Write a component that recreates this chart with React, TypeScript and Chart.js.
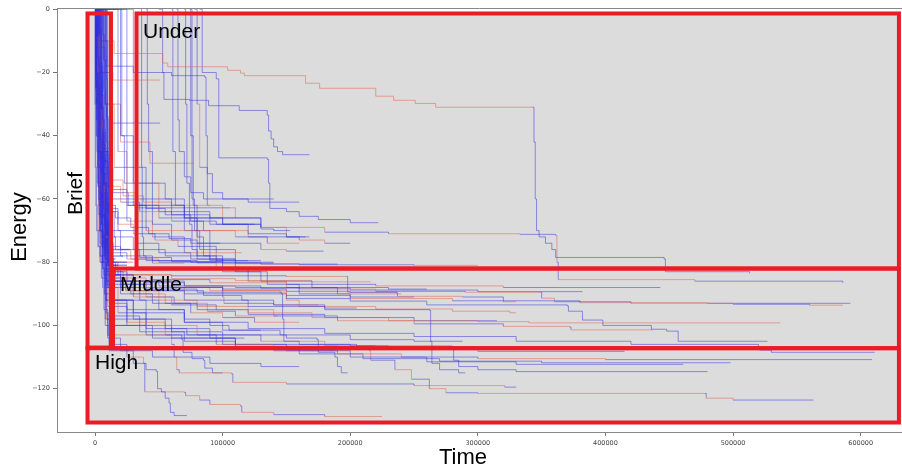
import React, { useEffect, useRef } from 'react';
import { Chart, registerables } from 'chart.js';
Chart.register(...registerables);

// Each run: flat list of [time (thousands), energy] pairs; energy drops to the new value at that time.
const briefRuns: number[][] = [
  [0,0, 4,-8, 5,-20, 6,-35, 7,-46, 8,-55, 9,-62, 10,-68, 11,-72, 13,-72],
  [2,0, 2.5,-6, 3,-18, 4,-30, 5,-44, 6,-58, 7,-66, 8,-75, 11,-79, 16,-79],
  [6,0, 6.5,-12, 7,-26, 7.5,-38, 8,-50, 8.5,-60, 9.5,-70, 10.5,-77, 12,-81, 18,-81],
  [0,0, 1,-4, 2,-15, 3,-27, 4,-41, 5,-52, 6.5,-63, 8,-74, 10,-80, 13,-84, 20,-84],
  [8,0, 8.3,-15, 8.7,-30, 9.2,-42, 9.7,-53, 10.2,-64, 10.7,-73, 11.5,-78, 12.5,-83, 14,-83],
  [0,0, 1.5,-9, 2.5,-20, 4,-32, 5,-45, 6,-56, 7,-65, 8.5,-72, 11,-76, 27,-76],
  [4,0, 4.4,-20, 5,-38, 6,-52, 6.8,-61, 7.8,-69, 9.5,-75, 12,-78, 22,-78],
  [0,0, 0.8,-14, 1.8,-29, 3,-40, 4.5,-51, 6,-59, 7.5,-67, 9.5,-74, 14,-80, 25,-80],
  [2,0, 3,-6, 4.5,-18, 5.5,-31, 6.5,-43, 7.5,-55, 8.5,-66, 9.5,-76, 12,-83, 15,-83],
  [7,0, 7.3,-25, 7.9,-45, 8.8,-58, 9.5,-67, 10.5,-73, 12,-79, 14,-82, 16,-82],
  [0,0, 1.2,-11, 2.4,-24, 3.6,-36, 5,-47, 7,-57, 8.5,-70, 10.5,-81, 13,-86, 16,-86],
  [3,0, 3.5,-8, 4.3,-17, 5.1,-28, 6.3,-39, 7.8,-49, 9.2,-61, 10,-71, 11,-78, 12,-80, 30,-80],
  [5,0, 5.2,-12, 5.6,-27, 6.1,-40, 6.7,-52, 7.6,-63, 8.8,-71, 10.5,-76, 12,-77, 14,-77],
  [0,0, 3,-10, 4,-22, 5,-34, 6,-46, 7,-58, 8,-68, 9.5,-79, 11,-88, 12,-94, 14,-94],
  [1,0, 2,-30, 3,-47, 4.5,-60, 6,-72, 8,-85, 9,-96, 10,-103, 12,-103],
  [9,0, 9.3,-18, 9.6,-35, 10,-50, 10.5,-65, 11,-80, 11.5,-92, 12,-99, 13,-99],
  [0,0, 0.7,-22, 1.5,-40, 2.5,-56, 4,-70, 6,-82, 7.5,-90, 8.5,-92, 10,-92],
  [0,0, 0.1,-30, 0.4,-50, 0.9,-62, 1.5,-70, 2.5,-75, 4,-78, 6,-80, 8,-80],
  [6,0, 6.2,-40, 6.5,-55, 7,-65, 8,-72, 9,-77, 10,-80, 12,-80],
  [3,0, 4,-45, 4.5,-60, 5,-68, 6,-74, 8,-79, 10,-81, 25,-81],
  [1,0, 1.5,-10, 2,-25, 2.5,-45, 3,-60, 4,-70, 6,-75, 8,-77, 10,-77],
  [5,0, 6,-8, 7,-16, 8,-30, 9,-45, 10,-60, 11,-70, 12,-76, 14,-76],
  [2,0, 3,-20, 3.5,-32, 4,-48, 5,-58, 6,-66, 7,-71, 9,-74, 12,-74],
  [8,0, 8.5,-10, 9,-22, 9.5,-34, 10,-46, 10.5,-57, 11,-66, 11.5,-74, 12.5,-80, 15,-80],
];
const briefHues: string[] = ['b','b','b','b','b','m','b','b','b','b','b','m','b','b','b','b','b','b','b','b','b','b','m','b'];

const underRuns: number[][] = [
  [0,0, 2,-5, 5,-10, 15,-14, 53,-17, 57,-18.2, 104,-19.3, 114,-20.2, 117,-21, 165,-23.4, 176,-25, 220,-27.5, 234,-28.8, 251,-29.8, 267,-31, 343,-31, 344,-42, 345,-60, 346,-70, 348,-72, 353,-74, 358,-76, 361,-78.5, 446,-79, 447,-83, 513,-83.5],
  [0,0, 3,-12, 8,-20, 14,-22.4, 51,-22.4],
  [50,0, 53,-20, 54,-28.5, 74,-28.8, 89,-30.5, 113,-32, 135,-33.5, 136,-38.5, 138,-41, 140,-43.5, 143,-45, 147,-46, 168,-46],
  [36,0, 36.5,-50, 37,-72, 38,-78, 45,-79.5, 75,-80, 95,-80],
  [82,0, 84,-20, 95,-22, 97,-47, 135,-47.5, 136,-55, 137,-63, 150,-64, 160,-65.5, 175,-66.5, 200,-67.5, 222,-67.5],
  [78,0, 80,-30, 82,-50, 88,-62, 100,-66, 130,-69, 180,-70.5, 230,-71, 333,-71.2, 361,-71.6, 362,-80, 363,-85.5, 470,-86, 586,-86.5],
  [70,0, 71,-30, 72,-55, 74,-68, 76,-76, 80,-79, 100,-80, 140,-80],
  [75,0, 76,-40, 77,-62, 80,-72, 85,-78, 95,-79.5, 130,-79.5],
  [64,0, 65,-35, 66,-45, 70,-53, 75,-58, 85,-60, 120,-61, 160,-61],
  [0,0, 20,-40, 30,-55, 45,-62, 70,-66, 100,-68, 130,-69.5, 140,-70, 153,-70],
  [0,0, 25,-50, 40,-60, 60,-65, 90,-68, 120,-71, 150,-72, 168,-72],
  [0,0, 30,-55, 50,-66, 80,-70, 120,-72, 160,-73, 180,-74, 200,-74],
  [0,0, 18,-45, 25,-62, 40,-70, 80,-74, 130,-76, 150,-76.5, 179,-76.5],
  [0,0, 10,-30, 20,-42, 43,-48.7, 77,-48.7],
  [0,0, 5,-20, 12,-36, 51,-36],
  [0,0, 8,-30, 15,-50, 25,-58, 33,-62.8, 106,-62.8, 110,-66, 130,-69, 150,-72, 165,-72],
  [0,0, 1,-25, 3,-50, 6,-68, 10,-75, 20,-78, 40,-79.5, 80,-80.2, 130,-80.6, 190,-80.6],
  [0,0, 2,-35, 4,-58, 8,-72, 14,-77, 25,-79, 50,-80, 100,-80.5, 160,-80.8, 250,-81, 300,-81],
  [0,0, 1.5,-20, 4,-45, 9,-64, 15,-72, 30,-76, 55,-78, 90,-79.5, 120,-79.5],
  [0,0, 3,-30, 6,-56, 12,-70, 20,-76, 35,-78.5, 60,-79.8, 100,-79.8],
  [0,0, 1,-18, 2.5,-40, 5,-60, 9,-72, 16,-76, 28,-79, 45,-80.3, 70,-80.3],
  [0,0, 2,-24, 5,-48, 10,-63, 18,-70, 32,-74, 50,-77, 75,-79, 110,-80.3, 140,-80.3],
  [0,0, 1,-20, 3,-40, 6,-52, 12,-57, 25,-60, 40,-63, 55,-65, 75,-67, 95,-68, 125,-68],
  [0,0, 2,-30, 5,-48, 10,-56, 20,-61, 35,-64, 60,-67, 85,-70, 110,-72, 135,-74, 160,-74],
  [0,0, 1,-15, 3,-35, 7,-50, 14,-58, 26,-62, 50,-64, 70,-66, 100,-68, 130,-68],
  [0,0, 0.5,-25, 2,-45, 5,-58, 10,-64, 18,-68, 30,-71, 47,-73, 65,-75, 95,-77, 115,-77],
  [0,0, 3,-26, 6,-44, 12,-54, 22,-59, 38,-61, 60,-62, 90,-62],
  [0,0, 2,-38, 5,-55, 9,-62, 16,-66, 28,-69, 42,-71, 58,-72.5, 75,-74, 98,-74],
  [40,0, 41,-30, 42,-45, 45,-55, 55,-60, 70,-64, 90,-66, 110,-66],
  [74,0, 75,-40, 76,-60, 78,-70, 82,-76, 90,-79, 110,-79],
  [0,0, 4,-10, 10,-18, 30,-20, 60,-21, 86,-21.5, 87,-40, 88,-52, 92,-58, 100,-60, 140,-60],
];
const underHues: string[] = ['rb:15','r','b','b','b','m','b','b','b','b','b','m','m','r','b','m','b','m','b','b','m','b','b','m','b','m','r','b','b','b','b'];

const middleRuns: number[][] = [
  [0,0, 1,-25, 3,-50, 6,-70, 10,-82, 20,-85, 40,-86.5, 70,-87.5, 110,-88, 160,-88.5, 220,-89.2, 290,-89.5, 349,-89.5, 350,-91.4, 360,-92.5, 420,-93, 500,-93.3, 560,-93.6, 586,-93.6],
  [0,0, 2,-30, 4,-55, 8,-75, 14,-84, 30,-86, 60,-88, 100,-89, 150,-90.5, 200,-91.5, 280,-92.2, 380,-92.8, 480,-93, 592,-93],
  [0,0, 1,-20, 2,-45, 5,-68, 9,-83, 25,-86, 60,-88, 100,-90, 150,-91.5, 200,-92.3, 260,-93.5, 370,-93.8, 371,-95.5, 382,-98.3, 398,-100, 436,-101.2, 448,-101.8, 457,-105, 527,-105],
  [0,0, 1.5,-28, 3,-52, 7,-72, 11,-85, 25,-89, 50,-92, 80,-94, 120,-96, 170,-97.5, 230,-98.5, 300,-98.8, 340,-99.2, 537,-99.2],
  [0,0, 1,-22, 3,-48, 6,-66, 9,-80, 18,-84, 45,-85.5, 90,-86.5, 150,-87, 220,-87.5, 320,-88, 443,-88],
  [0,0, 2,-35, 4,-58, 8,-76, 13,-84, 30,-86, 70,-87.5, 130,-88.2, 200,-88.8, 300,-89.3, 382,-89.3],
  [0,0, 1,-30, 4,-60, 7,-80, 12,-88, 30,-91, 60,-93.5, 95,-95, 140,-97, 190,-98.5, 250,-99.5, 320,-100.3, 372,-100.5, 373,-101.4, 437,-101.4],
  [0,0, 2,-40, 5,-66, 9,-84, 20,-90, 45,-93, 80,-95, 120,-96.5, 180,-97.5, 250,-98.5, 315,-98.5],
  [0,0, 1,-18, 3,-50, 6,-75, 10,-88, 15,-92, 40,-95, 70,-99, 100,-101.5, 145,-103, 200,-104.5, 250,-105, 288,-105],
  [0,0, 2,-45, 5,-70, 10,-82, 25,-84, 60,-85.2, 110,-85.8, 170,-86.2, 216,-86.2],
  [0,0, 1,-25, 4,-55, 8,-78, 14,-86, 50,-87.5, 100,-88.5, 150,-89.2, 200,-89.5, 237,-89.5],
  [0,0, 2,-40, 6,-72, 11,-86, 30,-89, 70,-92, 120,-94, 180,-95, 262,-95.2, 263,-105, 264,-112, 270,-114, 285,-115, 290,-115],
  [0,0, 1.5,-35, 4,-62, 8,-80, 12,-87, 40,-88.5, 80,-89.5, 146,-90, 147,-98, 148,-105, 160,-106, 200,-106.5, 220,-106.5],
  [0,0, 1,-20, 3,-45, 6,-68, 10,-80, 16,-84, 60,-84.3, 150,-84.5, 197,-84.5, 198,-89.5, 236,-89.7, 237,-90.8, 288,-91, 320,-92.5, 330,-92.5],
  [0,0, 2,-50, 5,-75, 12,-86, 40,-88, 90,-89, 145,-89.5, 150,-92, 160,-94, 220,-94.8, 280,-95.5, 325,-96, 330,-96],
  [0,0, 1,-26, 3,-55, 7,-78, 12,-85, 20,-88, 35,-92, 50,-95, 70,-98, 90,-100, 105,-101.5, 130,-101.5],
  [0,0, 2,-38, 5,-63, 9,-81, 16,-86, 28,-90, 55,-93, 75,-96, 100,-97.5, 125,-99, 160,-99],
  [0,0, 1,-15, 3,-42, 6,-67, 10,-83, 22,-87, 45,-89, 85,-90.5, 115,-92, 140,-93.5, 180,-94.5, 205,-94.5],
  [0,0, 1.5,-32, 4,-60, 8,-79, 13,-86, 24,-89, 40,-91, 62,-93, 88,-95.5, 110,-97, 143,-97],
  [0,0, 2,-44, 5,-72, 9,-86, 15,-92, 25,-95, 40,-98, 55,-101, 72,-103, 90,-104, 117,-104],
  [0,0, 1,-30, 3,-55, 6,-76, 10,-86, 30,-88, 70,-90, 100,-91, 101,-93, 140,-93.5, 175,-93.5],
  [20,0, 21,-40, 23,-55, 30,-62, 45,-68, 60,-73, 80,-78, 100,-83, 130,-86, 170,-88, 230,-88.5, 260,-88.5],
  [0,0, 5,-45, 12,-60, 25,-67, 45,-72, 70,-77, 95,-82, 120,-86, 150,-88, 190,-90, 240,-90],
  [60,0, 61,-45, 63,-62, 70,-70, 90,-76, 110,-83, 135,-87, 160,-90, 200,-91, 250,-91],
];
const middleHues: string[] = ['m','m','b','r','m','b','m','b','b','r','b','b','b','m','r','b','m','b','m','b','m','b','m','b'];

const highRuns: number[][] = [
  [0,0, 1,-35, 3,-65, 7,-84, 12,-92, 30,-96, 70,-99, 120,-101, 180,-102.5, 250,-103.5, 330,-105, 420,-106, 520,-106.8, 521,-107.8, 530,-108.5, 611,-108.5],
  [0,0, 2,-45, 5,-72, 10,-88, 18,-96, 40,-100, 80,-103, 130,-105, 180,-106.5, 230,-107.5, 300,-108.2, 415,-108.2],
  [0,0, 1,-28, 3,-58, 6,-80, 11,-93, 25,-99, 55,-103, 95,-106, 140,-108, 190,-109, 240,-110, 300,-110.5, 400,-110.8, 609,-110.8],
  [0,0, 2,-40, 5,-70, 9,-87, 14,-97, 35,-102, 70,-105, 110,-107, 160,-109, 210,-110.5, 270,-111.3, 350,-111.8, 498,-111.8],
  [0,0, 1,-22, 3,-50, 7,-78, 12,-92, 30,-98, 60,-102, 100,-106, 150,-108, 200,-110, 260,-111.5, 330,-112.3, 461,-112.3],
  [0,0, 2,-50, 4,-74, 8,-90, 15,-100, 45,-104, 110,-106, 205,-106.5, 280,-106.8, 281,-111, 285,-113, 300,-114, 330,-114.6, 480,-114.6],
  [0,0, 1,-30, 3,-62, 6,-82, 10,-94, 25,-100, 60,-104, 110,-106.5, 190,-107.5, 215,-108, 216,-111, 235,-114, 248,-117, 262,-120, 275,-121.3, 300,-121.5, 478,-121.5, 479,-123, 500,-123.6, 563,-123.6],
  [0,0, 1,-40, 3,-70, 6,-88, 9,-98, 12,-103, 60,-106, 62,-110, 64,-114, 66,-115, 107,-115.3, 108,-118, 150,-118.5, 250,-119, 321,-119.5, 330,-119.5],
  [0,0, 2,-50, 5,-85, 8,-100, 11,-108, 30,-112, 40,-114, 48,-114.5, 49,-120, 52,-121, 55,-123, 58,-124.5, 59,-127.5, 62,-128.5, 72,-128.5],
  [0,0, 1.5,-45, 4,-80, 8,-98, 12,-106, 25,-110, 38,-112, 39,-121, 70,-121.2, 71,-122.2, 82,-123.6, 90,-125, 114,-125.5, 115,-127.5, 140,-128.2, 180,-128.8, 225,-128.8],
  [0,0, 2,-40, 5,-75, 9,-92, 14,-100, 40,-103, 68,-104.5, 69,-108.5, 76,-110.5, 85,-111, 86,-113.5, 92,-115, 100,-115],
  [0,0, 1,-30, 4,-66, 8,-88, 13,-98, 40,-101, 90,-103, 150,-104, 174,-104.5, 175,-108.5, 188,-110, 190,-113, 193,-115, 198,-115],
  [0,0, 2,-55, 4,-80, 7,-95, 10,-104, 20,-108, 45,-110, 90,-112, 130,-113, 160,-113],
];
const highHues: string[] = ['b','m','m','b','b','b','m','m','b','m','b','b','b'];

// annotation boxes (time in thousands, energy)
const regionNames = ['Brief', 'Under', 'Middle', 'High'];
const regionTimeFrom = [-5.9, 32.5, 14.1, -5.9];
const regionTimeTo = [12.5, 630, 630, 630];
const regionEnergyTop = [-1.33, -1.33, -82.0, -107.2];
const regionEnergyBottom = [-107.0, -82.0, -107.2, -130.7];

const xTickValues = [0, 100, 200, 300, 400, 500, 600];
const yTickValues = [0, -20, -40, -60, -80, -100, -120];

const BLUE = 'rgba(50,50,225,0.5)';
const RED = 'rgba(226,95,75,0.5)';

function hueAt(spec: string, i: number): string {
  if (spec === 'r') return RED;
  if (spec === 'm') return i % 2 ? RED : BLUE;
  if (spec.startsWith('rb:')) return i < Number(spec.slice(3)) ? RED : BLUE;
  return BLUE;
}

function toPoints(run: number[]) {
  const pts: { x: number; y: number }[] = [];
  for (let i = 0; i < run.length; i += 2) pts.push({ x: run[i], y: run[i + 1] });
  return pts;
}

const regionPlugin = {
  id: 'regions',
  beforeDatasetsDraw(chart: any) {
    const { ctx, scales } = chart;
    const x = scales.x, y = scales.y;
    ctx.save();
    ctx.fillStyle = '#dcdcdc';
    for (let i = 0; i < regionNames.length; i++) {
      const x0 = x.getPixelForValue(regionTimeFrom[i]);
      const x1 = x.getPixelForValue(regionTimeTo[i]);
      const y0 = y.getPixelForValue(regionEnergyTop[i]);
      const y1 = y.getPixelForValue(regionEnergyBottom[i]);
      ctx.fillRect(x0, y0, x1 - x0, y1 - y0);
    }
    ctx.restore();
  },
  afterDatasetsDraw(chart: any) {
    const { ctx, scales } = chart;
    const x = scales.x, y = scales.y;
    ctx.save();
    ctx.strokeStyle = '#ea1c24';
    ctx.lineWidth = 4;
    for (let i = 0; i < regionNames.length; i++) {
      const x0 = x.getPixelForValue(regionTimeFrom[i]);
      const x1 = x.getPixelForValue(regionTimeTo[i]);
      const y0 = y.getPixelForValue(regionEnergyTop[i]);
      const y1 = y.getPixelForValue(regionEnergyBottom[i]);
      ctx.strokeRect(x0, y0, x1 - x0, y1 - y0);
    }
    ctx.fillStyle = '#000';
    ctx.font = '21px "Liberation Sans", Arial, sans-serif';
    ctx.textBaseline = 'alphabetic';
    ctx.save();
    ctx.translate(x.getPixelForValue(regionTimeFrom[0]) - 5.5, y.getPixelForValue(regionEnergyTop[0]) + 180);
    ctx.rotate(-Math.PI / 2);
    ctx.textAlign = 'center';
    ctx.fillText(regionNames[0], 0, 0);
    ctx.restore();
    ctx.textAlign = 'left';
    const dx = [0, 6.5, 7, 7.5];
    const dy = [0, 24.5, 22.5, 21];
    for (let i = 1; i < regionNames.length; i++) {
      ctx.fillText(regionNames[i], x.getPixelForValue(regionTimeFrom[i]) + dx[i], y.getPixelForValue(regionEnergyTop[i]) + dy[i]);
    }
    ctx.restore();
  },
  afterDraw(chart: any) {
    const { ctx, chartArea } = chart;
    ctx.save();
    ctx.strokeStyle = '#888';
    ctx.lineWidth = 1;
    ctx.beginPath();
    ctx.moveTo(chartArea.left, chartArea.top + 0.5);
    ctx.lineTo(chartArea.right, chartArea.top + 0.5);
    ctx.stroke();
    ctx.fillStyle = '#000';
    ctx.font = '22px "Liberation Sans", Arial, sans-serif';
    ctx.textAlign = 'center';
    ctx.textBaseline = 'alphabetic';
    ctx.fillText('Time', 463, 464);
    ctx.save();
    ctx.translate(25.5, 227);
    ctx.rotate(-Math.PI / 2);
    ctx.fillText('Energy', 0, 0);
    ctx.restore();
    ctx.restore();
  },
};

export default function App() {
  const canvasRef = useRef<HTMLCanvasElement | null>(null);
  useEffect(() => {
    document.body.style.margin = '0';
    const groups: [number[][], string[], number][] = [
      [briefRuns, briefHues, 1.5],
      [underRuns, underHues, 1],
      [middleRuns, middleHues, 1],
      [highRuns, highHues, 1],
    ];
    const datasets: any[] = [];
    for (const [runs, hues, width] of groups) {
      runs.forEach((run, k) => {
        const spec = hues[k] || 'b';
        datasets.push({
          data: toPoints(run),
          stepped: true,
          borderWidth: width,
          pointRadius: 0,
          fill: false,
          borderColor: hueAt(spec, 0),
          segment: { borderColor: (c: any) => hueAt(spec, c.p0DataIndex) },
        });
      });
    }
    const chart = new Chart(canvasRef.current as HTMLCanvasElement, {
      type: 'line',
      data: { datasets },
      plugins: [regionPlugin],
      options: {
        animation: false,
        responsive: false,
        maintainAspectRatio: false,
        layout: { padding: { top: 8, left: 0, right: 0, bottom: 0 } },
        plugins: { legend: { display: false }, tooltip: { enabled: false } },
        scales: {
          x: {
            type: 'linear',
            min: -29.8,
            max: 632.4,
            afterFit: (s: any) => { s.height = 36; },
            afterBuildTicks: (s: any) => { s.ticks = xTickValues.map((v) => ({ value: v })); },
            ticks: {
              callback: (v: any) => String(Math.round(Number(v) * 1000)),
              font: { family: 'DejaVu Sans', size: 6.5 },
              color: '#444',
              padding: 3,
              maxRotation: 0,
              autoSkip: false,
            },
            grid: { drawOnChartArea: false, tickLength: 4, color: '#777' },
            border: { color: '#888' },
          },
          y: {
            type: 'linear',
            min: -133.7,
            max: 0.4,
            afterFit: (s: any) => { s.width = 57; },
            afterBuildTicks: (s: any) => { s.ticks = yTickValues.map((v) => ({ value: v })); },
            ticks: {
              callback: (v: any) => (Number(v) < 0 ? '\u2212' + String(Math.abs(Number(v))) : String(v)),
              font: { family: 'DejaVu Sans', size: 6.5 },
              color: '#444',
              padding: 3,
              autoSkip: false,
            },
            grid: { drawOnChartArea: false, tickLength: 4, color: '#777' },
            border: { color: '#888' },
          },
        },
      },
    });
    return () => chart.destroy();
  }, []);
  return (
    <div style={{ width: 902, height: 468 }}>
      <canvas ref={canvasRef} width={902} height={468} style={{ display: 'block' }} />
    </div>
  );
}
